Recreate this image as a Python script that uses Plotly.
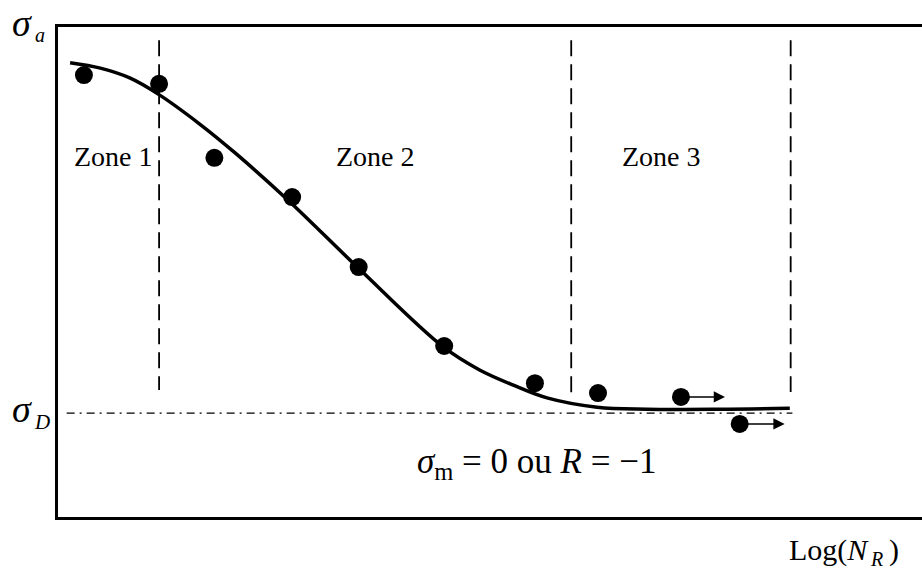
import plotly.graph_objects as go

# Data (x: log of number of cycles, y: stress amplitude, arbitrary units)
pts_x = [0.30, 1.17, 1.81, 2.71, 3.48, 4.47, 5.52, 6.25, 7.21, 7.89]
pts_y = [9.02, 8.84, 7.33, 6.53, 5.10, 3.49, 2.73, 2.53, 2.45, 1.90]

# runouts (arrows): index of point and arrow end x
runout_idx = [8, 9]
runout_end_x = [7.72, 8.41]

curve_x = [0.14, 0.49, 0.83, 1.16, 1.64, 2.05, 2.66, 3.50, 4.46, 4.88, 5.27, 5.66, 6.24, 6.82, 7.66, 8.47]
curve_y = [9.27, 9.16, 8.96, 8.63, 8.02, 7.43, 6.47, 5.04, 3.47, 3.00, 2.69, 2.43, 2.24, 2.20, 2.20, 2.22]

zone_bounds_x = [1.17, 5.94, 8.48]
zone_top = 9.73
zone_bottom = [2.59, 2.52, 2.55]

sigma_d = 2.12
sigma_d_x = [0.10, 8.50]

zone_labels = ["Zone 1", "Zone 2", "Zone 3"]
zone_label_x = [0.64, 3.67, 6.99]
zone_label_y = 7.35

FONT = "Liberation Serif"

fig = go.Figure()

# endurance limit line (dash-dot)
fig.add_trace(go.Scatter(x=sigma_d_x, y=[sigma_d, sigma_d], mode="lines",
                         line=dict(color="black", width=1.3, dash="8px,5px,2px,5px"),
                         hoverinfo="skip", showlegend=False))

# zone boundaries
for xb, yb in zip(zone_bounds_x, zone_bottom):
    fig.add_trace(go.Scatter(x=[xb, xb], y=[zone_top, yb], mode="lines",
                             line=dict(color="black", width=1.8, dash="16px,8px"),
                             hoverinfo="skip", showlegend=False))

# fitted curve
fig.add_trace(go.Scatter(x=curve_x, y=curve_y, mode="lines",
                         line=dict(color="black", width=3.5, shape="spline", smoothing=1.0),
                         hoverinfo="skip", showlegend=False))

# data points
fig.add_trace(go.Scatter(x=pts_x, y=pts_y, mode="markers",
                         marker=dict(color="black", size=18),
                         showlegend=False))

annotations = []
for i, xe in zip(runout_idx, runout_end_x):
    annotations.append(dict(x=xe, y=pts_y[i], ax=pts_x[i], ay=pts_y[i],
                            xref="x", yref="y", axref="x", ayref="y",
                            showarrow=True, arrowhead=2, arrowsize=1.5,
                            arrowwidth=1.5, arrowcolor="black", text=""))

for lab, lx in zip(zone_labels, zone_label_x):
    annotations.append(dict(x=lx, y=zone_label_y, xref="x", yref="y", text=lab,
                            showarrow=False, font=dict(family=FONT, size=28, color="black")))

annotations.append(dict(x=5.54, y=1.10, xref="x", yref="y",
                        text="<i>σ</i><sub>m</sub> = 0 ou <i>R</i> = −1",
                        showarrow=False, font=dict(family=FONT, size=35, color="black")))


def ptxt(text, x, y, size, xanchor="center", yanchor="middle"):
    annotations.append(dict(x=x, y=y, xref="paper", yref="paper", text=text,
                            xanchor=xanchor, yanchor=yanchor, showarrow=False,
                            font=dict(family=FONT, size=size, color="black")))


# sigma_a (y-axis label)
ptxt("<i>σ</i>", -0.0417, 1.0551, 38, yanchor="top")
ptxt("<i>a</i>", -0.0208, 0.9837, 20)
# sigma_D
ptxt("<i>σ</i>", -0.0417, 0.220, 38)
ptxt("<i>D</i>", -0.0185, 0.194, 21)
# Log(N_R) (x-axis label)
ptxt("Log(<i>N</i>", 0.941, -0.0673, 30, xanchor="right")
ptxt("<i>R</i>", 0.9475, -0.1122, 20, yanchor="bottom")
ptxt(")", 0.9675, -0.0673, 30)

fig.update_layout(
    width=922, height=572,
    margin=dict(l=58, r=0, t=27, b=55),
    paper_bgcolor="white", plot_bgcolor="white",
    xaxis=dict(range=[0, 10], showgrid=False, zeroline=False, showticklabels=False,
               ticks="", showline=True, linecolor="black", linewidth=2.5, mirror=True),
    yaxis=dict(range=[0, 10], showgrid=False, zeroline=False, showticklabels=False,
               ticks="", showline=True, linecolor="black", linewidth=2.5, mirror=False),
    annotations=annotations,
)

fig.write_html("out.html", config={"displayModeBar": False},
               post_script="document.body.style.margin='0';")
